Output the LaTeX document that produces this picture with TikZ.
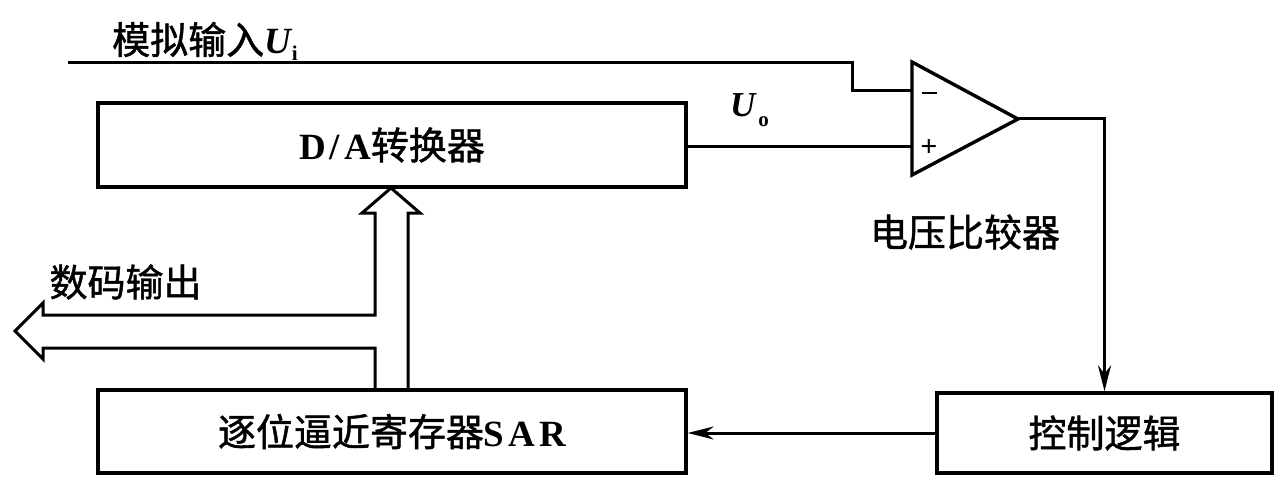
\documentclass[tikz,border=0pt]{standalone}
\usepackage{fontspec}
\setmainfont{Liberation Serif}
\newfontfamily\cjk{Noto Sans CJK SC}[FakeBold=1.2]
\usetikzlibrary{arrows.meta}
% bold serif latin letters inside CJK labels
\newcommand\latb[1]{{\rmfamily\bfseries\fontsize{37}{40}\selectfont #1}}
\begin{document}
\begin{tikzpicture}[x=1pt,y=-1pt,
  block/.style={draw,line width=3.4pt,inner sep=0pt},
  wire/.style={line width=3pt},
  sig/.style={wire,-{Stealth[length=26pt,width=13pt]}},
  bus/.style={line width=3pt,line join=miter},
  cn/.style={font=\cjk\fontsize{38}{42}\selectfont},
  sign/.style={font=\rmfamily\bfseries\fontsize{30}{30}\selectfont,inner sep=0pt}
]
\useasboundingbox (0,0) rectangle (1287,497);

% blocks
\node[block,minimum width=588pt,minimum height=84pt,cn] (dac) at (392,145)
  {\latb{D\kern4pt/\kern4pt A}转换器};
\node[block,minimum width=588pt,minimum height=83pt,cn] (sar) at (392,431.5)
  {逐位逼近寄存器\latb{S\kern4pt A\kern4pt R}};
\node[block,minimum width=335pt,minimum height=80pt,cn] (ctl) at (1104.5,433)
  {控制逻辑};

% voltage comparator
\coordinate (cmpm) at (912,91);
\coordinate (cmpp) at (912,147);
\coordinate (cmpo) at (1018,119);
\draw[line width=3.4pt,line join=miter] (912,62) -- (cmpo) -- (912,175) -- cycle;
\node[inner sep=0pt] (minus) at (929,93) {\rule{15pt}{2.6pt}};
\node[sign] (plus) at (929,148) {+};
\node[cn] (cmplabel) at (965,232) {电压比较器};

% analog input
\coordinate (inl) at (68,63);
\draw[wire] (inl) -- (852,63) -- (852,91) -- (cmpm);
\node[cn,anchor=base west,inner sep=0pt] (inlabel) at (112,54)
  {模拟输入\latb{\itshape U}\kern1pt\raisebox{-7pt}{\rmfamily\bfseries\fontsize{21}{21}\selectfont i}};

% D/A output to the + input
\draw[wire] (dac.east |- cmpp) -- (cmpp);
\node[inner sep=0pt,anchor=base west] (uolabel) at (730,117)
  {\rmfamily\bfseries\fontsize{35}{35}\selectfont\itshape U\kern3pt\raisebox{-10pt}{\upshape\fontsize{21}{21}\selectfont o}};

% comparator -> control logic -> SAR
\draw[sig] (cmpo) -| (ctl.north);
\draw[sig] (ctl.west) -- (sar.east |- ctl.west);

% data bus from the SAR to the D/A converter and to the digital output
\draw[bus] (375,390) -- (375,348) -- (43,348) -- (43,359) -- (15,331)
  -- (43,303) -- (43,315) -- (375,315) -- (375,213) -- (362,213)
  -- (391,188) -- (420,213) -- (408,213) -- (408,390);
\node[cn,anchor=west] (outlabel) at (46,282) {数码输出};
\end{tikzpicture}
\end{document}
